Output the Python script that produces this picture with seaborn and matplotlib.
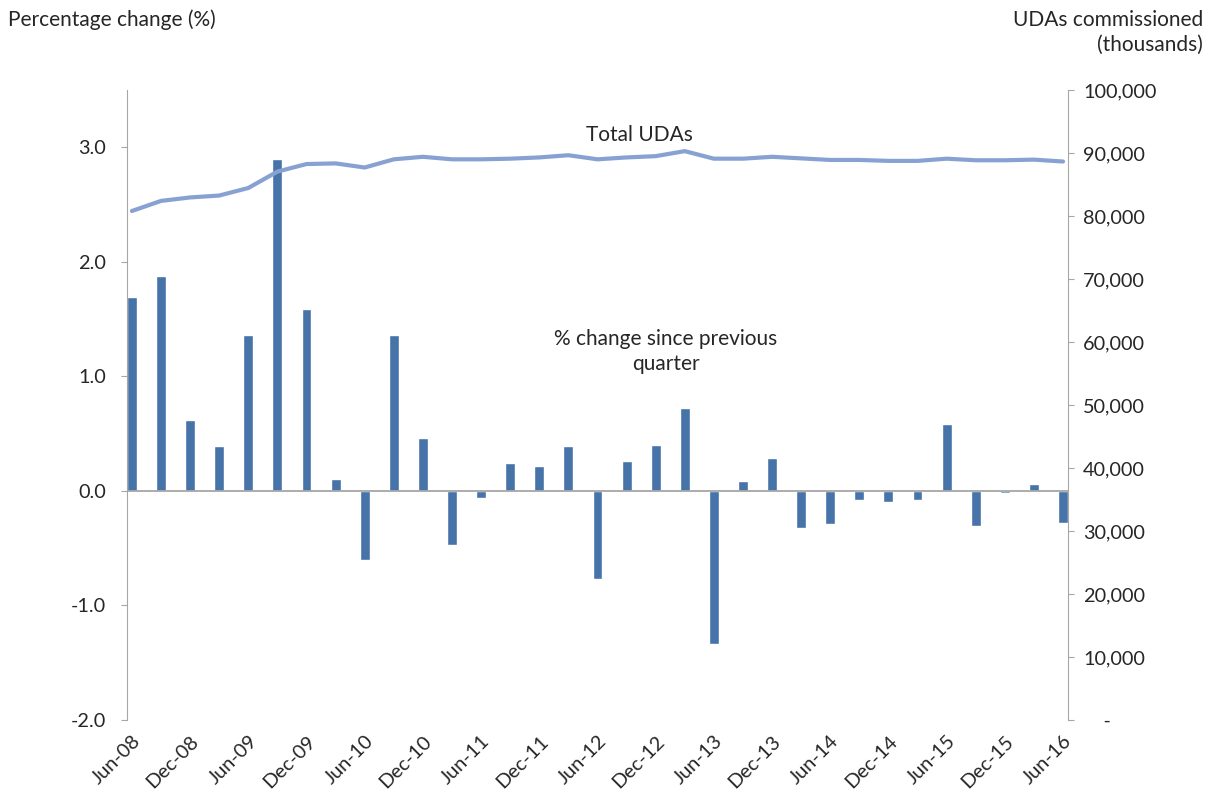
import matplotlib
matplotlib.use("Agg")
import matplotlib.pyplot as plt
import matplotlib.ticker as mticker
import seaborn as sns
import pandas as pd

quarters = [
    "Jun-08", "Sep-08", "Dec-08", "Mar-09", "Jun-09", "Sep-09", "Dec-09", "Mar-10",
    "Jun-10", "Sep-10", "Dec-10", "Mar-11", "Jun-11", "Sep-11", "Dec-11", "Mar-12",
    "Jun-12", "Sep-12", "Dec-12", "Mar-13", "Jun-13", "Sep-13", "Dec-13", "Mar-14",
    "Jun-14", "Sep-14", "Dec-14", "Mar-15", "Jun-15", "Sep-15", "Dec-15", "Mar-16",
    "Jun-16",
]

# % change since previous quarter
pct_change = [
    1.69, 1.88, 0.62, 0.39, 1.36, 2.90, 1.59, 0.10,
    -0.60, 1.36, 0.46, -0.47, -0.06, 0.24, 0.22, 0.39,
    -0.77, 0.26, 0.40, 0.72, -1.34, 0.09, 0.29, -0.32,
    -0.29, -0.08, -0.10, -0.08, 0.58, -0.31, -0.02, 0.06,
    -0.28,
]

# Total UDAs commissioned (thousands)
total_udas = [
    80800, 82400, 82950, 83250, 84450, 87050, 88250, 88350,
    87700, 89000, 89400, 89000, 89000, 89100, 89300, 89650,
    89000, 89300, 89500, 90300, 89100, 89100, 89400, 89150,
    88900, 88900, 88750, 88750, 89100, 88850, 88850, 88950,
    88650,
]

df = pd.DataFrame({"Quarter": quarters, "Pct": pct_change, "UDAs": total_udas})
df["pos"] = range(len(df))

sns.set_style("white")
plt.rcParams["font.family"] = ["Lato", "DejaVu Sans"]
plt.rcParams["font.size"] = 14

bar_color = "#4673A8"
line_color = "#87A2D2"
axis_color = "#A6A6A6"
tick_fs = 14.3
text_fs = 15

fig = plt.figure(figsize=(12.14, 7.98), dpi=100)
ax = fig.add_axes([0.1046, 0.0977, 0.7751, 0.7895])

sns.barplot(data=df, x="Quarter", y="Pct", order=quarters, color=bar_color,
            width=0.34, saturation=1, ax=ax)
ax.set_xlim(-0.17, len(quarters) - 1 + 0.17)
ax.set_ylim(-2, 3.5)
ax.set_yticks([-2, -1, 0, 1, 2, 3])
ax.yaxis.set_major_formatter(mticker.FormatStrFormatter("%.1f"))
ax.axhline(0, color=axis_color, lw=1.3, zorder=1)
ax.set_xticks(range(0, len(quarters), 2))
ax.set_xticklabels(quarters[::2], rotation=45, ha="right", rotation_mode="anchor")
ax.set_xlabel(None)
ax.set_ylabel(None)
for s in ["top", "right", "bottom"]:
    ax.spines[s].set_visible(False)
ax.spines["left"].set_color(axis_color)
ax.tick_params(axis="y", length=4, color=axis_color, pad=11, labelsize=tick_fs)
ax.tick_params(axis="x", length=0, pad=9, labelsize=tick_fs)

ax2 = ax.twinx()
sns.lineplot(data=df, x="pos", y="UDAs", color=line_color, lw=3, ax=ax2)
ax2.set_xlim(-0.17, len(quarters) - 1 + 0.17)
ax2.set_ylim(0, 100000)
ax2.set_yticks(range(0, 100001, 10000))
ax2.yaxis.set_major_formatter(
    mticker.FuncFormatter(lambda v, p: "    -" if v == 0 else f"{int(v):,}"))
ax2.set_xlabel(None)
ax2.set_ylabel(None)
for s in ["top", "left", "bottom"]:
    ax2.spines[s].set_visible(False)
ax2.spines["right"].set_color(axis_color)
ax2.tick_params(axis="y", length=4, color=axis_color, pad=7, labelsize=tick_fs)

fig.text(0.007, 0.988, "Percentage change (%)", ha="left", va="top", fontsize=text_fs)
fig.text(0.991, 0.988, "UDAs commissioned\n(thousands)", ha="right", va="top",
         fontsize=text_fs, linespacing=1.35)
ax2.text(17.45, 92850, "Total UDAs", ha="center", va="center", fontsize=text_fs)
ax.text(18.35, 1.22, "% change since previous\nquarter", ha="center", va="center",
        fontsize=text_fs, linespacing=1.3)

fig.savefig("out.png", dpi=100)
